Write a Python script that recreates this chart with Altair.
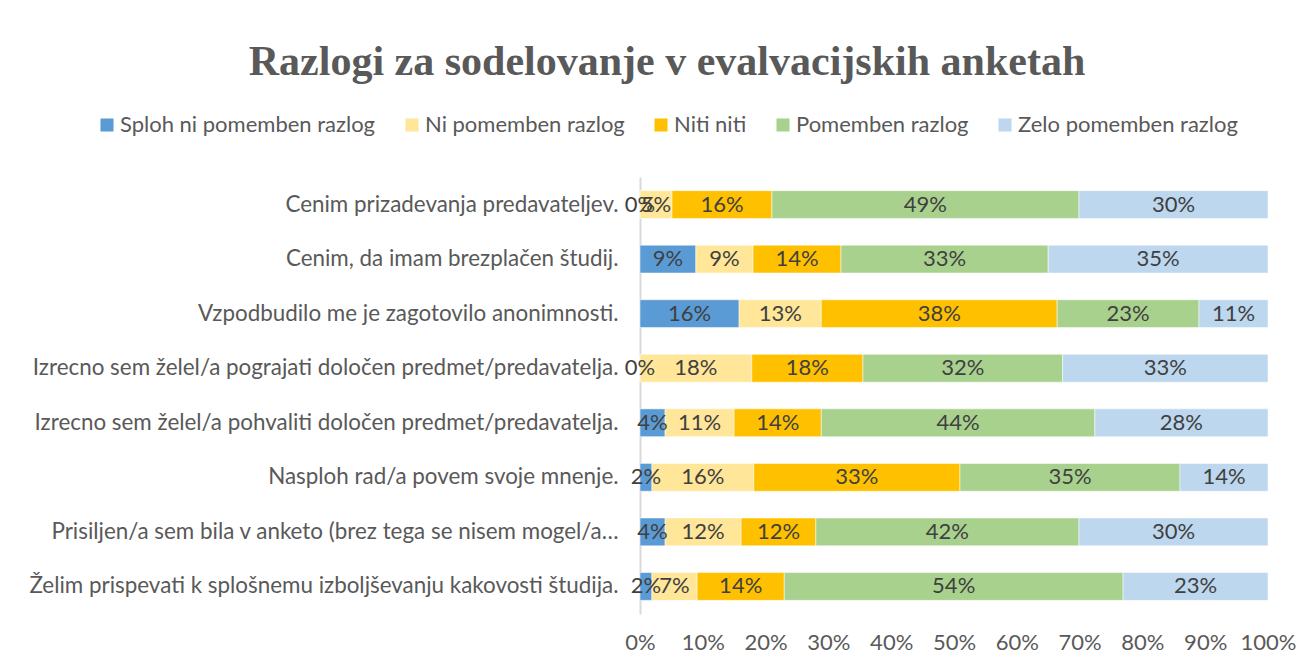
import altair as alt
import pandas as pd

reasons = [
    "Cenim prizadevanja predavateljev.",
    "Cenim, da imam brezplačen študij.",
    "Vzpodbudilo me je zagotovilo anonimnosti.",
    "Izrecno sem želel/a pograjati določen predmet/predavatelja.",
    "Izrecno sem želel/a pohvaliti določen predmet/predavatelja.",
    "Nasploh rad/a povem svoje mnenje.",
    "Prisiljen/a sem bila v anketo (brez tega se nisem mogel/a…",
    "Želim prispevati k splošnemu izboljševanju kakovosti študija.",
]

series_names = [
    "Sploh ni pomemben razlog",
    "Ni pomemben razlog",
    "Niti niti",
    "Pomemben razlog",
    "Zelo pomemben razlog",
]
series_colors = ["#5B9BD5", "#FFE699", "#FFC000", "#A9D18E", "#BDD7EE"]

sploh_ni = [0.000, 0.089, 0.158, 0.000, 0.040, 0.019, 0.040, 0.019]
ni_pomemben = [0.051, 0.091, 0.131, 0.178, 0.110, 0.162, 0.121, 0.072]
niti_niti = [0.159, 0.140, 0.376, 0.177, 0.139, 0.328, 0.119, 0.139]
pomemben = [0.489, 0.330, 0.226, 0.318, 0.436, 0.350, 0.419, 0.540]
zelo_pomemben = [0.301, 0.350, 0.110, 0.327, 0.276, 0.140, 0.301, 0.231]

series_values = [sploh_ni, ni_pomemben, niti_niti, pomemben, zelo_pomemben]

rows = []
for si, (name, vals) in enumerate(zip(series_names, series_values)):
    for ri, reason in enumerate(reasons):
        rows.append({"reason": reason, "series": name, "order": si, "value": vals[ri]})
df = pd.DataFrame(rows)

FONT = "Lato"
FS = 22

base = alt.Chart(df).transform_stack(
    stack="value",
    groupby=["reason"],
    as_=["v0", "v1"],
    sort=[alt.SortField("order", order="ascending")],
    offset="normalize",
).transform_calculate(mid="(datum.v0 + datum.v1) / 2")

y_enc = alt.Y(
    "reason:N",
    sort=reasons,
    title=None,
    scale=alt.Scale(paddingInner=0.49, paddingOuter=0.25),
    axis=alt.Axis(
        labelFont=FONT, labelFontSize=22.4, labelColor="#595959", labelPadding=22,
        ticks=False, domain=True, domainColor="#D9D9D9", domainWidth=2, labelLimit=700,
    ),
)

bars = base.mark_bar(stroke="white", strokeWidth=0.5).encode(
    x=alt.X(
        "v0:Q",
        scale=alt.Scale(domain=[0, 1], nice=False),
        title=None,
        axis=alt.Axis(
            format=".0%", values=[i / 10 for i in range(11)], grid=False, domain=False,
            ticks=False, labelFont=FONT, labelFontSize=FS, labelColor="#595959",
            labelPadding=18, labelOverlap=False, labelFlush=False,
        ),
    ),
    x2="v1:Q",
    y=y_enc,
    color=alt.Color(
        "series:N",
        sort=series_names,
        scale=alt.Scale(domain=series_names, range=series_colors),
        legend=alt.Legend(
            title=None, orient="none", direction="horizontal", legendX=-544, legendY=-63,
            symbolType="square", symbolSize=170, symbolStrokeWidth=0,
            labelFont=FONT, labelFontSize=FS, labelColor="#595959", labelLimit=400,
            columnPadding=25, labelOffset=2, columns=5,
        ),
    ),
    order=alt.Order("order:Q"),
)

labels = base.mark_text(font=FONT, fontSize=FS, color="#404040").encode(
    x="mid:Q",
    y=alt.Y("reason:N", sort=reasons),
    text=alt.Text("value:Q", format=".0%"),
)

chart = (
    alt.layer(bars, labels)
    .properties(
        width=628,
        height=437,
        autosize=alt.AutoSizeParams(type="none"),
        padding={"left": 632, "top": 169, "right": 38, "bottom": 45},
        title=alt.TitleParams(
            "Razlogi za sodelovanje v evalvacijskih anketah",
            font="Liberation Serif", fontSize=42, fontWeight="bold", color="#595959",
            anchor="middle", frame="group", dx=-287, offset=30,
        ),
        background="white",
    )
    .configure_view(stroke=None)
)

chart.save("out.html", embed_options={"renderer": "svg", "actions": False})
